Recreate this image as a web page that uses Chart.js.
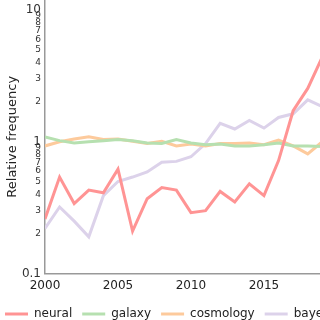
<!DOCTYPE html>
<html>
<head>
<meta charset="utf-8">
<script src="https://cdn.jsdelivr.net/npm/chart.js@4"></script>
<style>
  body { margin: 0; overflow: hidden; background: #fff; }
  #wrap { width: 360px; height: 330px; }
</style>
</head>
<body>
<div id="wrap"><canvas id="freq-chart"></canvas></div>
<script>
const years = [2000, 2001, 2002, 2003, 2004, 2005, 2006, 2007, 2008, 2009,
               2010, 2011, 2012, 2013, 2014, 2015, 2016, 2017, 2018, 2019];
const neural = [0.26, 0.54, 0.34, 0.43, 0.41, 0.62, 0.21, 0.37, 0.45, 0.43,
                0.29, 0.30, 0.42, 0.35, 0.48, 0.39, 0.72, 1.72, 2.54, 4.4];
const galaxy = [1.09, 1.02, 0.98, 1.0, 1.02, 1.04, 1.02, 0.98, 0.97, 1.04,
                0.98, 0.95, 0.96, 0.93, 0.93, 0.95, 0.98, 0.93, 0.93, 0.92];
const cosmology = [0.93, 1.0, 1.05, 1.09, 1.04, 1.05, 1.01, 0.97, 1.01, 0.93,
                   0.96, 0.93, 0.97, 0.97, 0.98, 0.95, 1.03, 0.93, 0.81, 1.0];
const bayes = [0.22, 0.32, 0.25, 0.19, 0.39, 0.50, 0.54, 0.59, 0.70, 0.71,
               0.77, 0.97, 1.38, 1.25, 1.45, 1.27, 1.53, 1.63, 2.08, 1.85];
const xTicks = [2000, 2005, 2010, 2015];
const yTicks = [0.1, 0.2, 0.3, 0.4, 0.5, 0.6, 0.7, 0.8, 0.9,
                1, 2, 3, 4, 5, 6, 7, 8, 9, 10];
const majorTicks = [0.1, 1, 10];

function series(label, values, color) {
  return {
    label: label,
    data: years.map((y, i) => ({ x: y, y: values[i] })),
    borderColor: color,
    backgroundColor: color,
    borderWidth: 3,
    pointRadius: 0,
    tension: 0
  };
}

// minor ticks only show their leading digit (0.3 -> "3")
function yLabel(v) {
  if (majorTicks.includes(v)) return String(v);
  const decade = Math.pow(10, Math.floor(Math.log10(v) + 1e-9));
  return String(Math.round(v / decade));
}

const canvas = document.getElementById('freq-chart');

new Chart(canvas, {
  type: 'line',
  data: {
    datasets: [
      series('neural', neural, '#ff9494'),
      series('galaxy', galaxy, '#b6e0b0'),
      series('cosmology', cosmology, '#fdca9c'),
      series('bayes', bayes, '#dcd2ea')
    ]
  },
  options: {
    responsive: true,
    maintainAspectRatio: false,
    animation: false,
    // negative left padding so the legend starts near the left edge
    layout: { padding: { left: -5, right: 0, top: 0, bottom: 0 } },
    scales: {
      x: {
        type: 'linear',
        min: 2000,
        max: 2021.58,
        grid: { display: false, drawTicks: false },
        border: { display: true, color: '#999', width: 1.5 },
        afterBuildTicks: s => { s.ticks = xTicks.map(v => ({ value: v })); },
        afterFit: s => { s.paddingLeft = 0; s.paddingRight = 0; },
        ticks: {
          padding: 5,
          color: '#222',
          maxRotation: 0,
          font: { family: 'DejaVu Sans', size: 12 },
          callback: v => String(v)
        }
      },
      y: {
        type: 'logarithmic',
        min: 0.1,
        max: 11.9,
        grid: { display: false, drawTicks: false },
        border: { display: true, color: '#999', width: 1.5 },
        afterBuildTicks: s => { s.ticks = yTicks.map(v => ({ value: v })); },
        afterFit: s => { s.paddingTop = 0; s.paddingBottom = 0; s.width = 50; },
        title: {
          display: true,
          text: 'Relative frequency',
          color: '#222',
          padding: { top: 10, bottom: 0 },
          font: { family: 'DejaVu Sans', size: 13 }
        },
        ticks: {
          padding: 4,
          color: '#333',
          autoSkip: false,
          font: ctx => ({ family: 'DejaVu Sans',
                          size: majorTicks.includes(ctx.tick.value) ? 12 : 9 }),
          callback: v => yLabel(v)
        }
      }
    },
    plugins: {
      legend: {
        position: 'bottom',
        align: 'start',
        labels: {
          usePointStyle: true,
          pointStyle: 'line',
          pointStyleWidth: 23,
          boxWidth: 23,
          padding: 10,
          color: '#222',
          font: { family: 'DejaVu Sans', size: 12 }
        }
      },
      tooltip: { enabled: false }
    }
  }
});
</script>
</body>
</html>
